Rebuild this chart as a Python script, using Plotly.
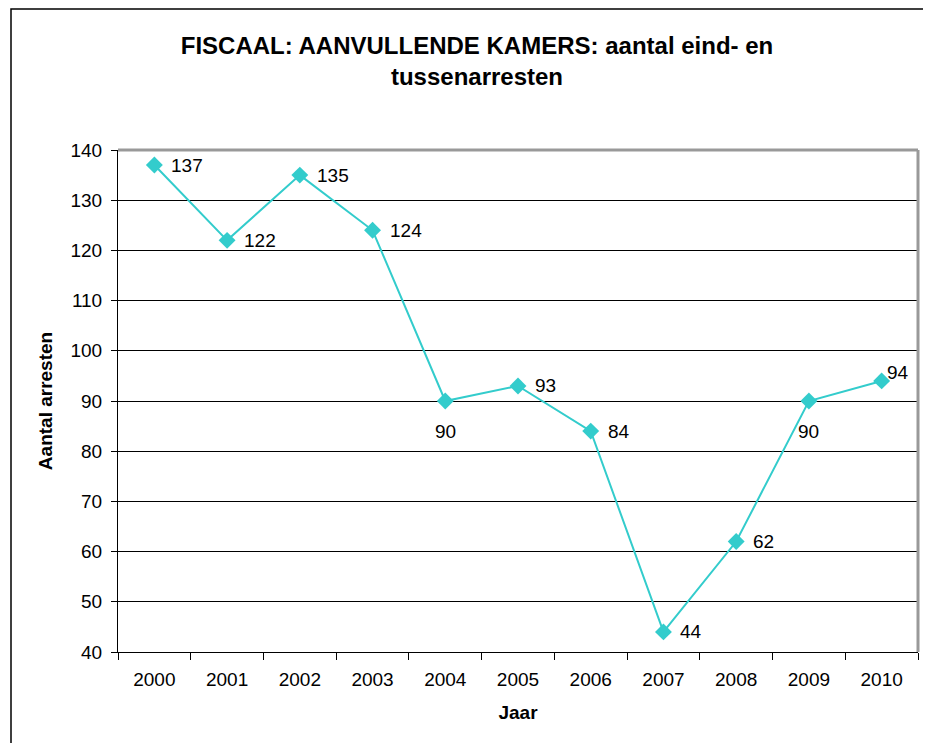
import plotly.graph_objects as go

# Jaar en aantal arresten
years = ["2000", "2001", "2002", "2003", "2004", "2005",
         "2006", "2007", "2008", "2009", "2010"]
arresten = [137, 122, 135, 124, 90, 93, 84, 44, 62, 90, 94]

# plaatsing van de waardelabels: rechts, onder, of rechtsboven
label_side = ["right", "right", "right", "right", "below", "right",
              "right", "right", "right", "below", "upright"]

# pagina heeft 8px body-marge; figuur daarom kleiner en verschoven
W, H = 915, 735
L, R, T, B = 110, 5, 142, 91
FONT = "Liberation Sans, Arial"
TURQ = "#33CCCC"

fig = go.Figure()
fig.add_trace(
    go.Scatter(
        x=years,
        y=arresten,
        mode="lines+markers",
        line=dict(color=TURQ, width=2),
        marker=dict(symbol="diamond", size=13, color=TURQ),
        cliponaxis=False,
        showlegend=False,
    )
)

# labels op categorie-index (strings als "2000" worden anders als getal gelezen)
for i, (val, side) in enumerate(zip(arresten, label_side)):
    if side == "below":
        kw = dict(xanchor="center", yanchor="middle", xshift=0, yshift=-30)
    elif side == "upright":
        kw = dict(xanchor="left", yanchor="middle", xshift=3, yshift=8)
    else:
        kw = dict(xanchor="left", yanchor="middle", xshift=15, yshift=0)
    fig.add_annotation(x=i, y=val, text=str(val), showarrow=False,
                       font=dict(family=FONT, size=19, color="black"), **kw)

fig.update_layout(
    width=W,
    height=H,
    margin=dict(l=L, r=R, t=T, b=B),
    paper_bgcolor="white",
    plot_bgcolor="white",
    font=dict(family=FONT, size=19, color="black"),
    title=dict(
        text="<b>FISCAAL: AANVULLENDE KAMERS: aantal eind- en<br>tussenarresten</b>",
        x=469 / W,
        xanchor="center",
        y=1 - 46 / H,
        yanchor="middle",
        font=dict(size=24),
    ),
)

fig.update_xaxes(
    type="category",
    range=[-0.5, len(years) - 0.5],
    tickson="boundaries",
    ticks="outside",
    ticklen=7,
    tickcolor="black",
    showline=True,
    linecolor="black",
    linewidth=1,
    showgrid=False,
    tickangle=0,
    ticklabelstandoff=10,
    tickfont=dict(size=19),
    title=dict(text="<b>Jaar</b>", font=dict(size=19), standoff=16),
)
fig.update_yaxes(
    range=[40, 140],
    dtick=10,
    ticks="outside",
    ticklen=6,
    tickcolor="black",
    showline=True,
    linecolor="black",
    linewidth=1,
    showgrid=True,
    gridcolor="black",
    gridwidth=1,
    zeroline=False,
    ticklabelstandoff=5,
    tickfont=dict(size=19),
    title=dict(text="<b>Aantal arresten</b>", font=dict(size=19), standoff=12),
)

pw, ph = W - L - R, H - T - B
# grijze rand bovenaan en rechts van het plotgebied
fig.add_shape(type="line", xref="paper", yref="paper", x0=0, x1=1, y0=1, y1=1,
              line=dict(color="#999999", width=3))
fig.add_shape(type="line", xref="paper", yref="paper", x0=1, x1=1, y0=0, y1=1,
              line=dict(color="#999999", width=3))
# buitenrand van de grafiek (alleen links en boven zichtbaar)
fig.add_shape(type="rect", xref="paper", yref="paper",
              x0=(3 - L) / pw, x1=(W + 20 - L) / pw,
              y0=-(B + 20) / ph, y1=(H - B - 1) / ph,
              line=dict(color="black", width=1.5), layer="below")

fig.write_html("out.html")
